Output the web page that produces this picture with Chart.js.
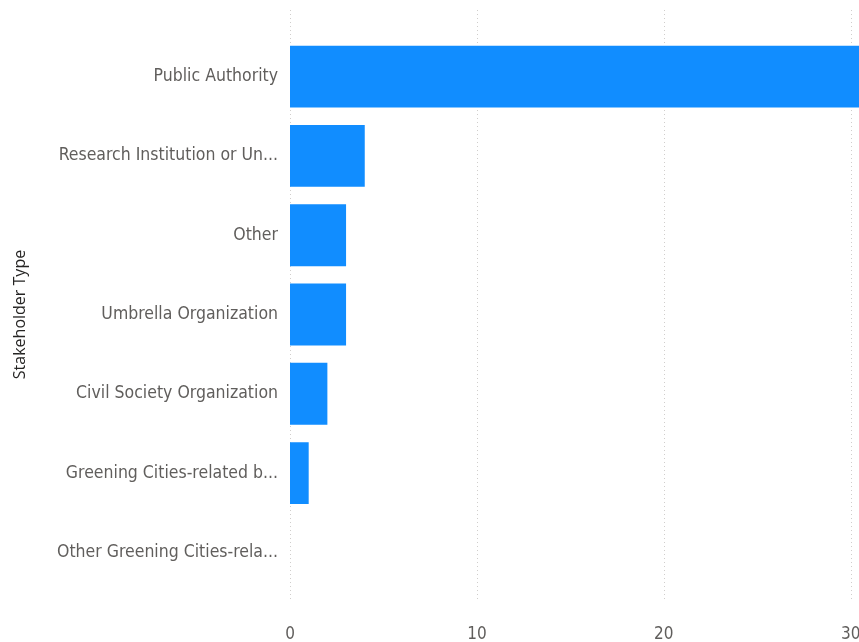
<!DOCTYPE html>
<html><head><meta charset="utf-8">
<script src="https://cdn.jsdelivr.net/npm/chart.js@4"></script>
<style>html,body{margin:0;padding:0;background:#fff;overflow:hidden;width:859px;height:642px}
#wrap{width:900px;height:642px;position:relative}</style>
</head><body>
<div id="wrap"><canvas id="c"></canvas></div>
<script>
const categories = ["Public Authority","Research Institution or Un...","Other","Umbrella Organization","Civil Society Organization","Greening Cities-related b...","Other Greening Cities-rela..."];
const counts = [32,4,3,3,2,1,0];
const xTicks = [0,10,20,30];
const yTitle = "Stakeholder Type";

const gridPlugin = {
  id:'dotgrid',
  beforeDatasetsDraw(chart){
    const ctx = chart.ctx, x = chart.scales.x;
    ctx.save();
    ctx.strokeStyle = '#D0CECC';
    ctx.lineWidth = 1;
    ctx.setLineDash([1,3]);
    xTicks.forEach(v=>{
      const px = Math.round(x.getPixelForValue(v))+0.5;
      ctx.beginPath(); ctx.moveTo(px,10); ctx.lineTo(px,600); ctx.stroke();
    });
    ctx.restore();
  }
};

new Chart(document.getElementById('c'),{
  type:'bar',
  data:{labels:categories,datasets:[{data:counts,backgroundColor:'#118DFF',categoryPercentage:0.78,barPercentage:1}]},
  options:{
    indexAxis:'y',responsive:true,maintainAspectRatio:false,animation:false,
    layout:{padding:{left:11,top:37,right:12,bottom:0}},
    plugins:{legend:{display:false},tooltip:{enabled:false}},
    scales:{
      x:{min:0,max:32,
        afterBuildTicks(s){s.ticks = xTicks.map(v=>({value:v}));},
        afterFit(s){s.height = 50;},
        grid:{display:false,drawTicks:false},border:{display:false},
        ticks:{padding:32,color:'#605E5C',font:{family:'DejaVu Sans Condensed',size:17}}},
      y:{
        afterFit(s){s.width = 279;},
        grid:{display:false,drawTicks:false},border:{display:false},
        ticks:{padding:12,color:'#605E5C',font:{family:'DejaVu Sans Condensed',size:17.5}},
        title:{display:true,text:yTitle,color:'#252423',font:{family:'Open Sans',size:16},padding:0}
      }
    }
  },
  plugins:[gridPlugin]
});
</script>
</body></html>
